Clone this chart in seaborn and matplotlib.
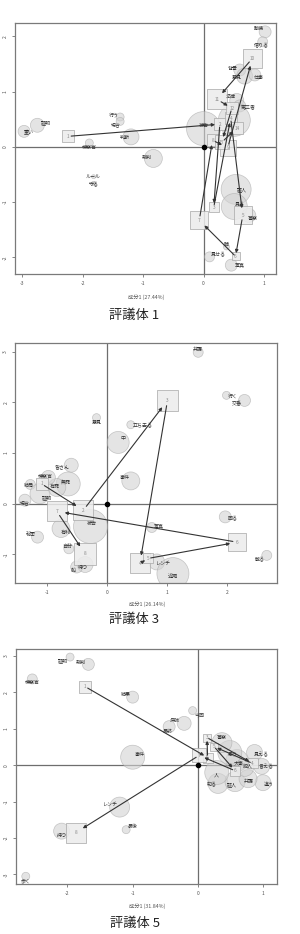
import numpy as np
import pandas as pd
import matplotlib
matplotlib.use("Agg")
import matplotlib.pyplot as plt
import seaborn as sns

# ---------------- data ----------------
titles = ["評議体 1", "評議体 3", "評議体 5"]
xlabels = ["成分1 (27.44%)", "成分1 (26.14%)", "成分1 (31.84%)"]

# panel 1 (評議体 1)
p1_words = ["動機", "借りる", "背景", "意見", "仕事", "法律", "第三者", "", "被告", "証明", "重い",
            "行う", "場合", "判断", "検察官", "裁判", "ルール", "守る", "証人", "見る", "警察", "話",
            "見せる", "写真"]
p1_x = [1.02, 0.98, 0.60, 0.68, 0.85, 0.55, 0.60, 0.51, 0.00, -2.75, -2.97, -1.38, -1.38, -1.20,
        -1.89, -0.83, -1.82, -1.82, 0.54, 0.51, 0.75, 0.38, 0.10, 0.46]
p1_y = [2.08, 1.90, 1.39, 1.28, 1.30, 0.84, 0.74, 0.48, 0.33, 0.39, 0.28, 0.54, 0.46, 0.18, 0.07,
        -0.21, -0.54, -0.66, -0.77, -1.08, -1.24, -1.81, -1.99, -2.14]
p1_freq = [6, 5, 6, 8, 6, 7, 6, 16, 17, 7, 6, 4, 4, 8, 4, 9, 2, 2, 15, 13, 7, 3, 5, 6]
p1_seg = ["1", "2", "3", "4", "5", "6", "7", "8", "9", "10", "11", "12", "13", "14"]
p1_seg_x = [-2.24, 0.27, 0.17, 0.45, 0.65, 0.53, -0.07, 0.15, 0.40, 0.81, 0.22, 0.47, 0.30, 0.55]
p1_seg_y = [0.19, 0.41, -1.09, 0.52, -1.24, -1.98, -1.33, 0.12, -0.02, 1.60, 0.86, 0.70, 0.08, 0.34]
p1_seg_w = [6, 6, 5, 6, 9, 4, 9, 6, 8, 9.5, 10, 6, 7, 6]

# panel 2 (評議体 3)
p2_words = ["弁護", "行く", "交番", "意見", "立ち去る", "中", "皆さん", "事件", "無罪", "有罪", "検察官",
            "結局", "証明", "場合", "被告", "有利", "秘密", "自分", "待つ", "船", "写真", "回る",
            "散る", "レンチ", "近隣"]
p2_x = [1.52, 1.99, 2.29, -0.17, 0.40, 0.19, -0.59, 0.40, -0.64, -0.83, -0.97, -1.27, -1.11, -1.36,
        -0.27, -0.76, -1.15, -0.63, -0.36, -0.50, 0.75, 1.97, 2.66, 0.83, 1.10]
p2_y = [2.99, 2.14, 2.04, 1.70, 1.56, 1.21, 0.76, 0.45, 0.39, 0.32, 0.52, 0.38, 0.20, 0.07, -0.45,
        -0.49, -0.66, -0.89, -1.20, -1.25, -0.47, -0.26, -1.02, -1.15, -1.38]
p2_freq = [5, 4, 6, 4, 4, 11, 7, 9, 12, 9, 7, 5, 10, 6, 17, 9, 6, 5, 8, 6, 5, 6, 5, 8, 16]
p2_seg = ["1", "2", "3", "4", "5", "6", "7", "8"]
p2_seg_x = [-1.08, -0.39, 1.01, 0.55, 0.69, 2.17, -0.83, -0.36]
p2_seg_y = [0.39, -0.13, 2.04, -1.18, -1.08, -0.76, -0.15, -0.99]
p2_seg_w = [6, 10, 10.7, 10, 5, 9, 10, 11]

# panel 3 (評議体 5)
p3_words = ["証明", "裁判", "検察官", "結果", "今回", "病院", "最終", "事件", "レンチ", "持つ", "最後",
            "歩く", "見える", "言える", "違う", "知る", "証人", "弁護", "人", "大事", "思う", "警察",
            "犯人"]
p3_x = [-1.96, -1.68, -2.54, -1.00, -0.08, -0.21, -0.44, -1.00, -1.20, -2.09, -1.10, -2.64, 0.87,
        0.98, 1.00, 0.31, 0.57, 0.77, 0.29, 0.60, 0.49, 0.37, 0.72]
p3_y = [2.97, 2.77, 2.37, 1.87, 1.50, 1.15, 1.06, 0.22, -1.15, -1.81, -1.77, -3.05, 0.35, -0.03,
        -0.48, -0.50, -0.45, -0.37, -0.20, 0.13, 0.35, 0.62, -0.06]
p3_freq = [4, 6, 5, 6, 4, 7, 6, 12, 10, 8, 4, 4, 8, 8, 8, 10, 10, 9, 12, 11, 12, 10, 9]
p3_seg = ["1", "2", "3", "4", "5", "6", "7", "8"]
p3_seg_x = [-1.73, 0.15, 0.14, 0.84, 0.25, 0.57, 0.02, -1.87]
p3_seg_y = [2.16, 0.21, 0.76, 0.05, 0.51, -0.15, 0.27, -1.85]
p3_seg_w = [6, 5, 4, 5, 4, 5, 7, 10]

# ---------------- layout (label offsets in px, axes boxes) ----------------
p1_off = [(-6, -3), (-1, 3), (-7, -1), (-8, 1), (4, 3), (-6, -4), (9, 2), (0, 0), (0, -3), (8, -3),
          (5, 0), (-6, -2), (-4, 3), (-6, 0), (0, 4), (-7, -1), (0, 0), (0, 0), (6, 0), (6, -3),
          (4, 3), (0, -2), (9, -3), (8, 0)]
p2_off = [(0, -3), (6, 1), (-8, 3), (0, 5), (12, 1), (5, -4), (-9, 2), (-6, -3), (-2, -2), (-2, -1),
          (-3, -1), (-1, 1), (7, 4), (0, 3), (1, -3), (5, 4), (-7, -3), (-2, -2), (-2, 3), (-3, 3),
          (7, -2), (7, 1), (-7, 3), (7, 1), (0, 3)]
p3_off = [(-7, 4), (-8, -2), (0, 4), (-7, -3), (7, 4), (-9, -3), (-1, 5), (7, -3), (-9, -3), (0, 4),
          (7, -3), (0, 4), (7, 2), (5, 0), (6, 1), (-6, 1), (-3, 3), (1, 3), (0, 3), (2, 2), (3, 2),
          (0, -5), (3, -1)]

W, H = 300, 934
boxes = [(15, 23, 276, 274), (15.3, 342.7, 277, 582.7), (16, 648.7, 276.7, 884.3)]
lims = [((-3.12, 1.2), (-2.3, 2.24)), ((-1.52, 2.83), (-1.56, 3.18)), ((-2.79, 1.21), (-3.27, 3.2))]
xticks = [[-3, -2, -1, 0, 1], [-1, 0, 1, 2], [-2, -1, 0, 1]]
yticks = [[-2, -1, 0, 1, 2], [-1, 0, 1, 2, 3], [-3, -2, -1, 0, 1, 2, 3]]
title_pos = [(134, 315), (134, 619), (135, 923)]
xlab_pos = [(146, 296.7), (146.7, 604), (146.7, 906)]

sns.set_theme(style="white")
plt.rcParams["font.family"] = ["Noto Sans CJK JP", "DejaVu Sans"]

PX = 0.72  # points per pixel at dpi 100

fig = plt.figure(figsize=(W / 100, H / 100), dpi=100)

panels = [
    (p1_words, p1_x, p1_y, p1_freq, p1_off, p1_seg, p1_seg_x, p1_seg_y, p1_seg_w),
    (p2_words, p2_x, p2_y, p2_freq, p2_off, p2_seg, p2_seg_x, p2_seg_y, p2_seg_w),
    (p3_words, p3_x, p3_y, p3_freq, p3_off, p3_seg, p3_seg_x, p3_seg_y, p3_seg_w),
]

for i, (words, wx, wy, wf, offs, seg, sx, sy, sw) in enumerate(panels):
    l, t, r, b = boxes[i]
    ax = fig.add_axes([l / W, 1 - b / H, (r - l) / W, (b - t) / H])
    ax.set_xlim(*lims[i][0])
    ax.set_ylim(*lims[i][1])
    ax.axhline(0, color="#6e6e6e", lw=0.9, zorder=1)
    ax.axvline(0, color="#6e6e6e", lw=0.9, zorder=1)

    wdf = pd.DataFrame({"word": words, "x": wx, "y": wy, "f": wf})
    sns.scatterplot(data=wdf, x="x", y="y", ax=ax, s=list((2 * PX * wdf["f"]) ** 2),
                    color="#d2d2d2", edgecolor="#a5a5a5", linewidth=0.5, alpha=0.6,
                    zorder=2, legend=False)
    for (wd, x, y), (dx, dy) in zip(zip(words, wx, wy), offs):
        if wd:
            ax.annotate(wd, (x, y), xytext=(dx * PX, -dy * PX), textcoords="offset points",
                        ha="center", va="center", fontsize=3.6, color="#303030", zorder=4)

    sdf = pd.DataFrame({"seg": seg, "x": sx, "y": sy, "w": sw})
    sns.scatterplot(data=sdf, x="x", y="y", ax=ax, marker="s",
                    s=list((2 * PX * sdf["w"]) ** 2), color="#ececec", edgecolor="#a8a8a8",
                    linewidth=0.6, alpha=0.85, zorder=3, legend=False)
    for lab, x, y in zip(seg, sx, sy):
        ax.annotate(lab, (x, y), ha="center", va="center", fontsize=3.4, color="#8a8a8a", zorder=4)

    for k in range(len(sx) - 1):
        ax.annotate("", xy=(sx[k + 1], sy[k + 1]), xytext=(sx[k], sy[k]),
                    arrowprops=dict(arrowstyle="-|>", color="#333333", lw=0.8,
                                    mutation_scale=4.5,
                                    shrinkA=sw[k] * PX * 0.5, shrinkB=sw[k + 1] * PX * 0.8),
                    zorder=5)

    ax.scatter([0], [0], s=9, color="black", zorder=6)

    ax.set_xticks(xticks[i])
    ax.set_yticks(yticks[i])
    ax.set_xticklabels([str(v) for v in xticks[i]])
    ax.set_yticklabels([str(v) for v in yticks[i]], rotation=90, va="center")
    ax.tick_params(axis="both", labelsize=3.6, colors="#555555", length=2, width=0.5, pad=3,
                   bottom=True, left=True)
    ax.set_xlabel("")
    ax.set_ylabel("")
    for sp in ax.spines.values():
        sp.set_color("#7a7a7a")
        sp.set_linewidth(0.9)
    ax.grid(False)

    fig.text(title_pos[i][0] / W, 1 - title_pos[i][1] / H, titles[i], ha="center", va="center",
             fontsize=9.5, color="#222222")
    fig.text(xlab_pos[i][0] / W, 1 - xlab_pos[i][1] / H, xlabels[i], ha="center", va="center",
             fontsize=3.8, color="#555555")

fig.savefig("out.png", dpi=100, facecolor="white")
